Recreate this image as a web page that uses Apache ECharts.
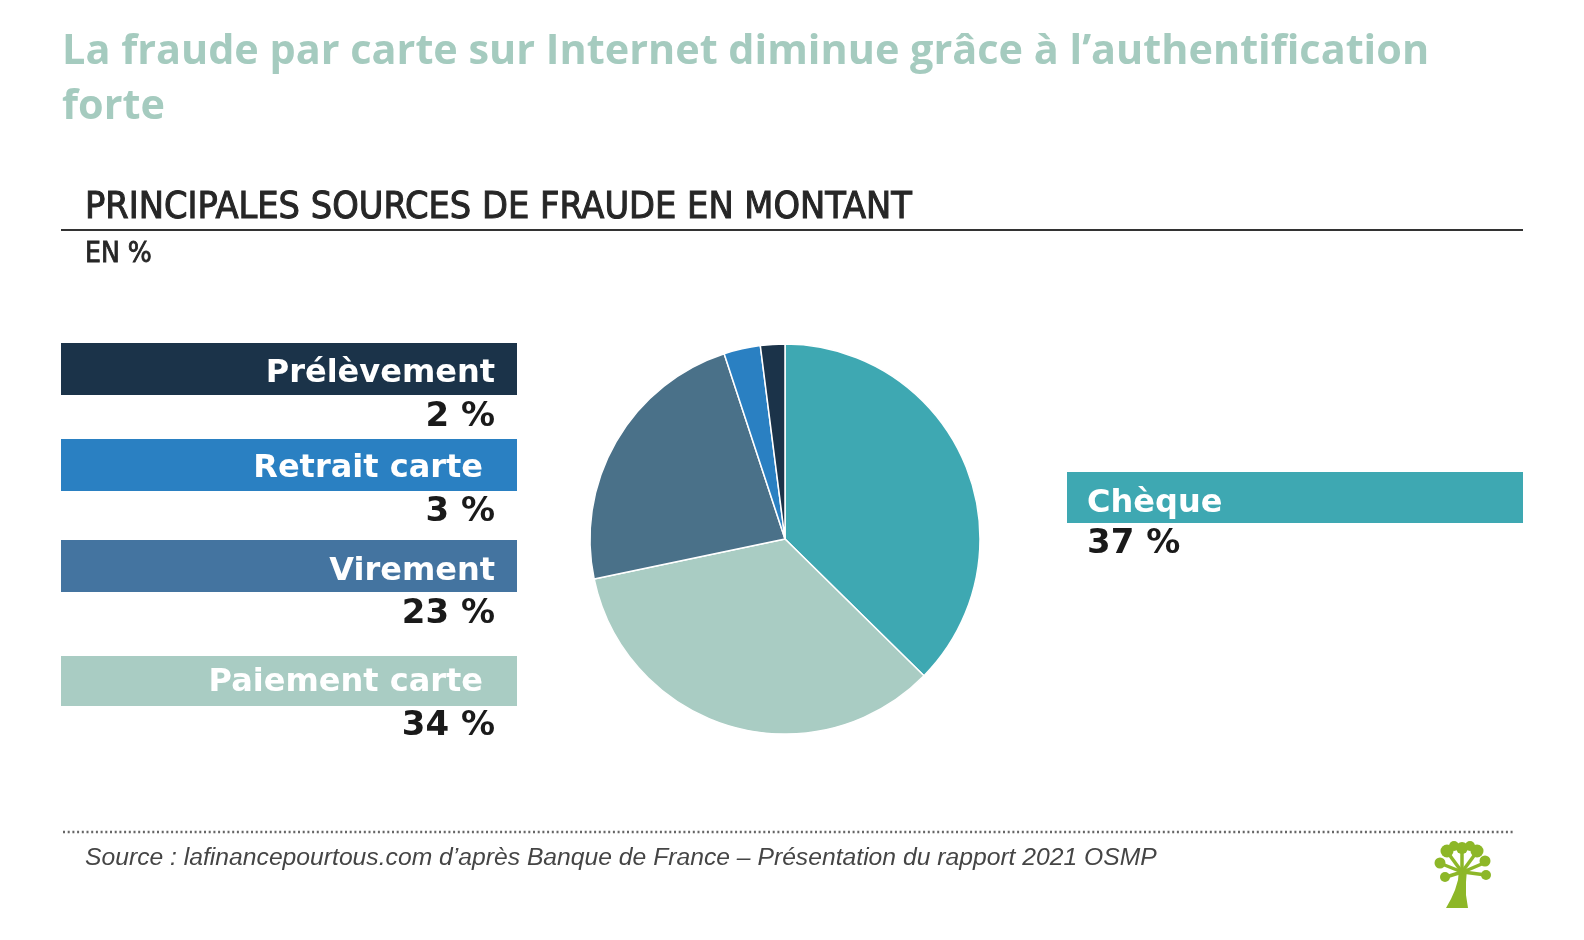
<!DOCTYPE html>
<html>
<head>
<meta charset="utf-8">
<script src="https://cdn.jsdelivr.net/npm/echarts@6/dist/echarts.min.js"></script>
<style>
html,body{margin:0;padding:0;background:#fff;}
#chart{width:1584px;height:940px;}
</style>
</head>
<body>
<div id="chart"></div>
<script>
// ---- data ----
const categories = ['Chèque', 'Paiement carte', 'Virement', 'Retrait carte', 'Prélèvement'];
const values = [37, 34, 23, 3, 2];
const labelTexts = ['37 %', '34 %', '23 %', '3 %', '2 %'];

// ---- styles ----
const pieColors = ['#3ea8b2', '#a9ccc3', '#4a7189', '#2a80c2', '#1b3349'];
const boxColors = ['#3ea8b2', '#a9ccc3', '#4474a0', '#2a80c2', '#1b3349'];
// layout of the label boxes (index matches categories)
const boxLayout = [
  {x: 1067, y: 472, w: 456, h: 51, align: 'left', tx: 1087, ty: 504, vx: 1087, vy: 544.5},
  {x: 61, y: 656, w: 456, h: 50, align: 'right', tx: 483, ty: 683, vx: 495, vy: 726.5},
  {x: 61, y: 540, w: 456, h: 52, align: 'right', tx: 495, ty: 572, vx: 495, vy: 614.5},
  {x: 61, y: 439, w: 456, h: 52, align: 'right', tx: 483, ty: 469, vx: 495, vy: 512.5},
  {x: 61, y: 343, w: 456, h: 52, align: 'right', tx: 495, ty: 374, vx: 495, vy: 417.5}
];

const labelFont = '"DejaVu Sans", sans-serif';
const condFont = '"DejaVu Sans Condensed", "DejaVu Sans", sans-serif';
const graphics = [];

// title
graphics.push({type: 'text', x: 62, y: 25, style: {
  text: 'La fraude par carte sur Internet diminue grâce à l’authentification\nforte',
  font: 'bold 41.4px "Open Sans", sans-serif', fill: '#a5cbbf', lineHeight: 55, textVerticalAlign: 'top'
}});
// header
graphics.push({type: 'text', x: 85, y: 208, style: {
  text: 'PRINCIPALES SOURCES DE FRAUDE EN MONTANT',
  font: '37.5px ' + condFont, fill: '#262626', stroke: '#262626', lineWidth: 1.0, textVerticalAlign: 'middle'
}});
graphics.push({type: 'line', shape: {x1: 61, y1: 230, x2: 1523, y2: 230}, style: {stroke: '#333', lineWidth: 2}});
graphics.push({type: 'text', x: 85, y: 255, style: {
  text: 'EN %', font: '28px ' + condFont, fill: '#262626', stroke: '#262626', lineWidth: 0.8, textVerticalAlign: 'middle'
}});

// label boxes
categories.forEach((c, i) => {
  const b = boxLayout[i];
  graphics.push({type: 'rect', shape: {x: b.x, y: b.y, width: b.w, height: b.h}, style: {fill: boxColors[i]}});
  graphics.push({type: 'text', x: b.tx, y: b.ty, style: {
    text: c, font: 'bold 32px ' + labelFont, fill: '#fff', textAlign: b.align, textVerticalAlign: 'middle'
  }});
  graphics.push({type: 'text', x: b.vx, y: b.vy, style: {
    text: labelTexts[i], font: 'bold 34px ' + labelFont, fill: '#1a1a1a', textAlign: b.align, textVerticalAlign: 'middle'
  }});
});

// dotted rule + source
graphics.push({type: 'line', shape: {x1: 63, y1: 832, x2: 1515, y2: 832}, style: {stroke: '#666', lineWidth: 2.5, lineDash: [2, 2.7]}});
graphics.push({type: 'text', x: 85, y: 858, style: {
  text: 'Source : lafinancepourtous.com d’après Banque de France – Présentation du rapport 2021 OSMP',
  font: 'italic 24.7px "Liberation Sans", sans-serif', fill: '#454545', textVerticalAlign: 'middle'
}});

// small tree logo
const green = '#8db728';
graphics.push({type: 'polygon', shape: {points: [[1446, 908], [1451, 899], [1455, 890], [1458, 880], [1459, 869], [1467, 869], [1466, 882], [1466, 895], [1468, 908]]}, style: {fill: green}});
[[1462, 872, 1448, 853], [1462, 872, 1462, 849], [1462, 872, 1476, 853], [1462, 872, 1442, 864], [1462, 872, 1446, 877], [1463, 872, 1484, 863], [1463, 872, 1486, 875]].forEach(l => {
  graphics.push({type: 'line', shape: {x1: l[0], y1: l[1], x2: l[2], y2: l[3]}, style: {stroke: green, lineWidth: 3.5}});
});
[[1447, 851, 6.5], [1462, 848, 6], [1477, 851, 6.5], [1454, 846, 5], [1470, 846, 5], [1440, 863, 5.5], [1445, 877, 5], [1485, 861, 5.5], [1486, 875, 5]].forEach(p => {
  graphics.push({type: 'circle', shape: {cx: p[0], cy: p[1], r: p[2]}, style: {fill: green}});
});

const chart = echarts.init(document.getElementById('chart'));
chart.setOption({
  animation: false,
  backgroundColor: '#fff',
  series: [{
    type: 'pie',
    center: [785, 539],
    radius: 195,
    startAngle: 90,
    clockwise: true,
    label: {show: false},
    labelLine: {show: false},
    emphasis: {disabled: true},
    itemStyle: {borderColor: '#fff', borderWidth: 1.5},
    data: categories.map((c, i) => ({name: c, value: values[i], itemStyle: {color: pieColors[i]}}))
  }],
  graphic: graphics
});
</script>
</body>
</html>
